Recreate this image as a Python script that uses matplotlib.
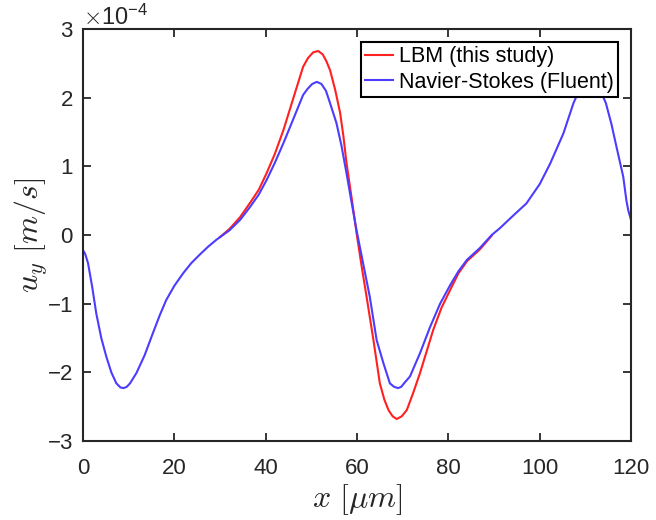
import matplotlib
matplotlib.use("Agg")
import matplotlib.pyplot as plt
import numpy as np
from matplotlib.ticker import ScalarFormatter

plt.rcParams["font.family"] = ["Liberation Sans", "DejaVu Sans"]
plt.rcParams["mathtext.fontset"] = "cm"
plt.rcParams["axes.unicode_minus"] = False

# x positions in micrometres, velocities in units of 1e-4 m/s
x_ns = [0, 0.5, 1.1, 2.0, 2.9, 4.0, 5.1, 6.2, 7.3, 8.2, 8.9, 9.6, 10.3, 11.7,
        13.5, 15.3, 16.8, 18.2, 20.0, 21.9, 23.7, 25.5, 27.4, 29.2, 32.1, 34.4,
        36.6, 38.5, 40.2, 42.0, 43.9, 46.0, 48.2, 49.2, 50.2, 51.2, 52.2, 53.2,
        54.1, 55.5, 56.6, 57.7, 58.8, 59.9, 61.3, 62.8, 64.3, 65.8, 67.2, 68.1,
        69.0, 69.7, 70.3, 71.6, 73.8, 76.0, 78.2, 80.4, 82.2, 84.1, 86.9, 89.5,
        91.3, 94.0, 97.1, 100.0, 102.3, 105.2, 107.4, 108.6, 109.8, 111.0,
        112.2, 113.4, 114.5, 115.7, 116.8, 118.3, 119.0, 119.4, 120.0]
uy_ns = [-0.22, -0.28, -0.41, -0.75, -1.14, -1.50, -1.77, -2.00, -2.16, -2.22,
         -2.23, -2.21, -2.16, -2.01, -1.75, -1.43, -1.17, -0.95, -0.74, -0.56,
         -0.41, -0.29, -0.17, -0.07, 0.07, 0.22, 0.41, 0.59, 0.80, 1.05, 1.34,
         1.68, 2.04, 2.13, 2.20, 2.23, 2.20, 2.10, 1.92, 1.63, 1.30, 0.90, 0.48,
         0.07, -0.40, -0.90, -1.53, -1.87, -2.16, -2.21, -2.23, -2.21, -2.16,
         -2.06, -1.72, -1.34, -1.00, -0.73, -0.53, -0.36, -0.19, 0.00, 0.10,
         0.27, 0.46, 0.74, 1.04, 1.48, 1.92, 2.10, 2.20, 2.24, 2.20, 2.09, 1.92,
         1.62, 1.29, 0.85, 0.50, 0.36, 0.22]

x_lbm = [30.0, 32.1, 34.4, 36.6, 38.5, 40.2, 42.0, 43.9, 46.0, 48.2, 49.3,
         50.4, 51.5, 52.5, 53.3, 54.1, 55.2, 56.3, 57.0, 57.7, 58.8, 59.9, 61.0,
         62.1, 63.6, 65.0, 66.0, 66.9, 67.8, 68.7, 69.8, 70.9, 72.3, 73.8, 76.7,
         78.5, 80.4, 82.2, 84.1, 86.9, 89.5]
uy_lbm = [-0.03, 0.09, 0.26, 0.47, 0.66, 0.90, 1.18, 1.53, 1.98, 2.45, 2.58,
          2.66, 2.68, 2.63, 2.53, 2.40, 2.12, 1.78, 1.45, 1.05, 0.55, 0.03,
          -0.45, -0.90, -1.53, -2.16, -2.40, -2.55, -2.64, -2.68, -2.64, -2.55,
          -2.30, -2.01, -1.38, -1.06, -0.80, -0.56, -0.38, -0.21, -0.01]

scale = 1e-4
dark = "#262626"

fig = plt.figure(figsize=(6.56, 5.2), dpi=100)
ax = fig.add_axes([83 / 656, 79 / 520, 548 / 656, 412 / 520])

ax.plot(x_lbm, np.array(uy_lbm) * scale, color="#ff2020", lw=1.5,
        label="LBM (this study)")
ax.plot(x_ns, np.array(uy_ns) * scale, color="#4b3cff", lw=1.5,
        label="Navier-Stokes (Fluent)")

ax.set_xlim(0, 120)
ax.set_ylim(-3e-4, 3e-4)
ax.set_xticks(np.arange(0, 121, 20))
ax.set_yticks(np.arange(-3, 4) * 1e-4)

fmt = ScalarFormatter(useMathText=True)
fmt.set_powerlimits((0, 0))
ax.yaxis.set_major_formatter(fmt)
ax.yaxis.get_offset_text().set_fontsize(17)
ax.yaxis.get_offset_text().set_color(dark)

ax.tick_params(direction="in", top=True, right=True, length=6, width=1.3,
               labelsize=16, colors=dark)
ax.tick_params(axis="y", pad=7)
ax.tick_params(axis="x", pad=12.5)
for sp in ax.spines.values():
    sp.set_color(dark)
    sp.set_linewidth(1.5)

ax.set_xlabel(r"$x\ [\mu m]$", fontsize=23, color=dark)
ax.set_ylabel(r"$u_y\ [m/s]$", fontsize=23, color=dark)
ax.xaxis.set_label_coords(0.5, -0.10)
ax.yaxis.set_label_coords(-0.06, 0.5)

leg = ax.legend(loc="upper right", bbox_to_anchor=(618 / 656, 478 / 520),
                bbox_transform=fig.transFigure, borderaxespad=0,
                fontsize=15.5, fancybox=False, framealpha=1, edgecolor="black",
                handlelength=1.3, handletextpad=0.25, labelspacing=0.2,
                borderpad=0.2)
leg.get_frame().set_linewidth(1.5)

fig.savefig("out.png", dpi=100)
